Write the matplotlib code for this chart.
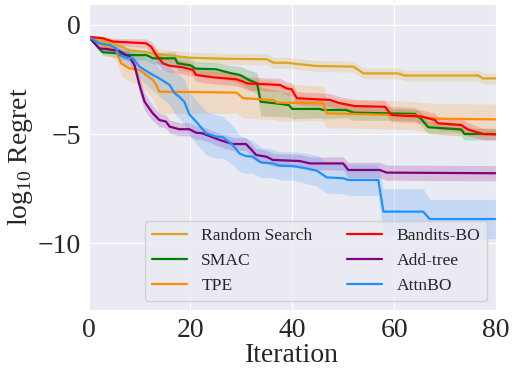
import matplotlib
matplotlib.use("Agg")
import matplotlib.pyplot as plt
import seaborn as sns
import numpy as np

# breakpoints (iteration, mean log10 regret, band half-width)
rs_x = [0, 2, 6, 8, 12.6, 15.2, 19.8, 27, 35, 36.3, 38.8, 41, 44.8, 52, 54, 60.8, 62.1, 76.5, 77.5, 80]
rs_y = [-0.54, -0.7, -0.95, -1.15, -1.3, -1.38, -1.5, -1.55, -1.57, -1.73, -1.73, -1.79, -1.88, -1.91,
        -2.22, -2.22, -2.32, -2.32, -2.45, -2.45]
rs_w = [0, 0.1, 0.2, 0.25, 0.25, 0.25, 0.25, 0.25, 0.25, 0.25, 0.25, 0.25, 0.25, 0.25,
        0.25, 0.25, 0.25, 0.25, 0.25, 0.25]

smac_x = [0, 2.8, 6, 6.5, 11.3, 12, 12.6, 17, 17.5, 20, 21, 25, 27.8, 29.8, 31.5, 33.1, 33.8, 37, 39.3,
          40, 45.4, 46.1, 50.6, 52, 64.1, 65.4, 66.7, 73.2, 73.8, 80]
smac_y = [-0.54, -1.25, -1.3, -1.38, -1.38, -1.45, -1.53, -1.53, -1.76, -1.85, -2.0, -2.03, -2.2, -2.3,
          -2.52, -2.68, -3.52, -3.6, -3.67, -3.85, -3.85, -3.9, -3.9, -4.02, -4.08, -4.33, -4.69, -4.79,
          -5.0, -5.0]
smac_w = [0, 0.15, 0.2, 0.2, 0.25, 0.25, 0.25, 0.3, 0.3, 0.3, 0.3, 0.3, 0.35, 0.4, 0.45, 0.5, 0.65,
          0.6, 0.55, 0.45, 0.4, 0.4, 0.35, 0.35, 0.3, 0.3, 0.3, 0.3, 0.27, 0.27]

bbo_x = [0, 2.8, 4.8, 11.3, 12.3, 13.3, 14.6, 15.9, 18.5, 20.5, 21.1, 24.4, 29, 30.4, 31.1, 37.6, 38.9,
         39.9, 40.9, 47.4, 49.4, 52.3, 58.2, 59.5, 65.4, 68, 68.6, 73.2, 74.5, 77.5, 80]
bbo_y = [-0.54, -0.61, -0.76, -0.84, -1.0, -1.38, -1.76, -1.87, -1.94, -2.06, -2.29, -2.4, -2.49, -2.6,
         -2.68, -2.75, -2.91, -2.95, -3.36, -3.44, -3.59, -3.72, -3.75, -4.13, -4.2, -4.36, -4.51, -4.59,
         -4.79, -5.0, -5.02]
bbo_w = [0, 0.1, 0.15, 0.2, 0.25, 0.3, 0.3, 0.3, 0.3, 0.3, 0.3, 0.3, 0.3, 0.3, 0.3, 0.3, 0.3,
         0.3, 0.3, 0.3, 0.3, 0.3, 0.3, 0.3, 0.3, 0.3, 0.3, 0.3, 0.3, 0.25, 0.25]

tpe_x = [0, 2.1, 3.4, 5.4, 6.4, 8, 10, 11.3, 12.6, 13.3, 13.9, 29, 30.4, 36.3, 37, 46.1, 46.7, 64.1, 65,
         68.6, 80]
tpe_y = [-0.54, -0.84, -1.0, -1.19, -1.76, -1.99, -2.06, -2.29, -2.52, -2.75, -3.06, -3.1, -3.36, -3.44,
         -3.56, -3.59, -4.05, -4.15, -4.2, -4.3, -4.33]
tpe_w = [0, 0.2, 0.3, 0.4, 0.55, 0.6, 0.65, 0.75, 0.85, 0.95, 1.0, 0.95, 0.9, 0.9, 0.85, 0.8, 0.65,
         0.65, 0.65, 0.7, 0.7]

add_x = [0, 1.5, 2.1, 3.4, 6, 8, 9, 10, 11, 12.6, 13.9, 15.2, 15.9, 17.8, 19.8, 21.1, 22.4, 23.7, 25.7,
         28.3, 30.9, 31.9, 32.9, 34.9, 36.2, 41.5, 43.5, 50, 51, 57.2, 58.5, 80]
add_y = [-0.54, -0.92, -1.07, -1.1, -1.19, -1.45, -1.83, -2.75, -3.52, -4.05, -4.36, -4.43, -4.66, -4.78,
         -4.78, -4.94, -4.97, -5.09, -5.27, -5.46, -5.46, -5.7, -5.96, -6.04, -6.19, -6.24, -6.35, -6.35,
         -6.65, -6.65, -6.77, -6.8]
add_w = [0, 0.1, 0.15, 0.15, 0.2, 0.25, 0.3, 0.4, 0.4, 0.35, 0.3, 0.3, 0.3, 0.3, 0.3, 0.3, 0.3, 0.3,
         0.3, 0.3, 0.3, 0.3, 0.3, 0.3, 0.3, 0.3, 0.3, 0.3, 0.35, 0.35, 0.35, 0.35]

attn_x = [0, 2.1, 4.1, 5.4, 6, 7.4, 8.7, 10, 11, 12.6, 13.9, 15.9, 16.9, 17.8, 18.8, 19.8, 21.1, 23.1, 25,
          26.4, 28.3, 29.6, 30.9, 32.2, 33.9, 36.2, 37.5, 40.2, 42.8, 44.8, 46.8, 50, 51, 56.9, 57.9, 65.7,
          67, 80]
attn_y = [-0.54, -0.84, -0.92, -1.07, -1.38, -1.5, -1.53, -1.91, -2.06, -2.29, -2.45, -2.75, -3.13, -3.29,
          -3.52, -4.1, -4.43, -4.97, -5.12, -5.15, -5.5, -5.89, -6.01, -6.04, -6.31, -6.35, -6.45, -6.47,
          -6.58, -6.68, -6.99, -7.03, -7.11, -7.11, -8.56, -8.56, -8.9, -8.9]
attn_w = [0, 0.1, 0.15, 0.2, 0.3, 0.35, 0.4, 0.5, 0.6, 0.7, 0.8, 0.9, 0.95, 1.0, 1.0, 1.0, 1.0, 1.0, 1.0,
          0.95, 0.9, 0.85, 0.8, 0.75, 0.7, 0.65, 0.65, 0.65, 0.7, 0.7, 0.72, 0.72, 0.72, 0.72, 1.05, 1.05,
          0.9, 0.9]

series = [
    ("Random Search", rs_x, rs_y, rs_w, "goldenrod"),
    ("SMAC", smac_x, smac_y, smac_w, "green"),
    ("TPE", tpe_x, tpe_y, tpe_w, "darkorange"),
    ("Bandits-BO", bbo_x, bbo_y, bbo_w, "red"),
    ("Add-tree", add_x, add_y, add_w, "purple"),
    ("AttnBO", attn_x, attn_y, attn_w, "dodgerblue"),
]

sns.set_style("darkgrid")
plt.rcParams['font.family'] = ['Liberation Serif', 'DejaVu Serif']
plt.rcParams['mathtext.fontset'] = 'custom'
plt.rcParams['mathtext.rm'] = 'Liberation Serif'

fig = plt.figure(figsize=(5.15, 3.69), dpi=100)
ax = fig.add_axes([0.172, 0.16, 0.791, 0.829])

for name, x, y, w, c in series:
    x = np.array(x)
    y = np.array(y)
    w = np.array(w)
    ax.fill_between(x, y - w, y + w, color=c, alpha=0.18, linewidth=0)
    ax.plot(x, y, color=c, linewidth=1.6, label=name)

ax.set_xlim(0, 80)
ax.set_ylim(-13.07, 0.96)
ax.set_xticks([0, 20, 40, 60, 80])
ax.set_yticks([0, -5, -10])
ax.tick_params(labelsize=20, pad=2)
ax.set_xlabel("Iteration", fontsize=20, labelpad=0)
ax.set_ylabel(r"log$_{\mathrm{10}}$ Regret", fontsize=20, labelpad=2)
ax.legend(loc="lower right", ncol=2, fontsize=12.6, columnspacing=2.0)

fig.savefig("out.png", dpi=100)
